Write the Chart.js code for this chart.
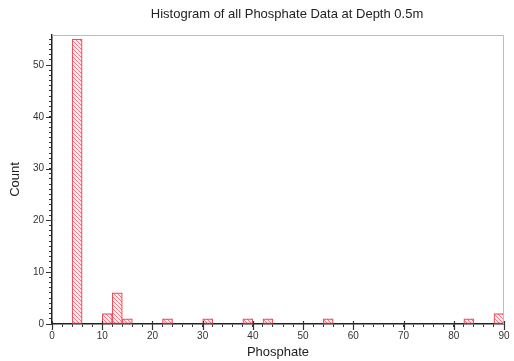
<!DOCTYPE html>
<html>
<head>
<meta charset="utf-8">
<script src="https://cdn.jsdelivr.net/npm/chart.js@4/dist/chart.umd.min.js"></script>
<style>
  html, body { margin: 0; padding: 0; background: #fff; }
  #wrap { width: 514px; height: 361px; }
</style>
</head>
<body>
<div id="wrap"><canvas id="histChart" width="514" height="361"></canvas></div>
<script>
// bins are 2 units wide, only the non-empty ones are listed
const binStarts = [4, 10, 12, 14, 22, 30, 38, 42, 54, 82, 88];
const counts = [55, 2, 6, 1, 1, 1, 1, 1, 1, 1, 2];
const binWidth = 2;
const xTickLabels = [0, 10, 20, 30, 40, 50, 60, 70, 80, 90];
const yTickLabels = [0, 10, 20, 30, 40, 50];
const chartTitle = 'Histogram of all Phosphate Data at Depth 0.5m';
const FONT = "'Liberation Sans', Arial, sans-serif";

// hatch pattern for the bars
function makeHatch() {
    const c = document.createElement('canvas');
    c.width = 4; c.height = 4;
    const g = c.getContext('2d');
    g.fillStyle = 'rgba(255, 235, 238, 1)';
    g.fillRect(0, 0, 4, 4);
    g.strokeStyle = 'rgba(236, 110, 122, 0.9)';
    g.lineWidth = 1;
    g.beginPath();
    g.moveTo(-1, -1); g.lineTo(5, 5);
    g.moveTo(-1, 3); g.lineTo(1, 5);
    g.moveTo(3, -1); g.lineTo(5, 1);
    g.stroke();
    return g.createPattern(c, 'repeat');
}

const points = binStarts.map((s, i) => ({ x: s + binWidth / 2, y: counts[i] }));

// title (sits right of canvas centre), longer major ticks, light gray frame
const frameAndTicks = {
    id: 'frameAndTicks',
    afterDraw(chart) {
        const ctx = chart.ctx;
        const a = chart.chartArea;
        const xs = chart.scales.x, ys = chart.scales.y;
        ctx.save();
        ctx.fillStyle = '#222';
        ctx.font = '13px ' + FONT;
        ctx.textAlign = 'center';
        ctx.textBaseline = 'middle';
        ctx.fillText(chartTitle, (a.left + a.right) / 2 + 9, 14);

        ctx.strokeStyle = '#bdbdbd';
        ctx.lineWidth = 1;
        ctx.beginPath();
        ctx.moveTo(a.left, a.top + 0.5);
        ctx.lineTo(a.right - 0.5, a.top + 0.5);
        ctx.lineTo(a.right - 0.5, a.bottom);
        ctx.stroke();

        ctx.strokeStyle = '#333';
        ctx.lineWidth = 1.2;
        ctx.beginPath();
        xTickLabels.forEach(v => {
            const px = Math.round(xs.getPixelForValue(v)) + 0.5;
            ctx.moveTo(px, a.bottom - 3);
            ctx.lineTo(px, a.bottom + 6);
        });
        yTickLabels.forEach(v => {
            const py = Math.round(ys.getPixelForValue(v)) + 0.5;
            ctx.moveTo(a.left - 6, py);
            ctx.lineTo(a.left, py);
        });
        ctx.stroke();
        ctx.restore();
    }
};

const ctx = document.getElementById('histChart').getContext('2d');
new Chart(ctx, {
    type: 'bar',
    data: {
        datasets: [{
            label: 'Count',
            data: points,
            backgroundColor: makeHatch(),
            borderColor: 'rgba(232, 78, 92, 1)',
            borderWidth: 1.2,
            borderSkipped: false,
            categoryPercentage: 1.0,
            barPercentage: 1.0
        }]
    },
    options: {
        responsive: false,
        animation: false,
        layout: {
            padding: { top: 35, right: 10, bottom: 0, left: 0 }
        },
        scales: {
            x: {
                type: 'linear',
                min: 0,
                max: 90,
                offset: false,
                grid: {
                    offset: false,
                    drawOnChartArea: false,
                    tickLength: 3,
                    color: '#333'
                },
                border: { color: '#222', width: 1.5 },
                ticks: {
                    stepSize: 2,
                    autoSkip: false,
                    maxRotation: 0,
                    padding: 3,
                    color: '#333',
                    font: { size: 10, family: FONT },
                    callback: v => xTickLabels.includes(v) ? v : ''
                },
                title: {
                    display: true,
                    text: 'Phosphate',
                    color: '#222',
                    padding: { top: 0, bottom: 1 },
                    font: { size: 13, family: FONT }
                },
                afterFit: s => { s.height = 37; }
            },
            y: {
                min: 0,
                max: 55.8,
                grid: {
                    drawOnChartArea: false,
                    tickLength: 3,
                    color: '#333'
                },
                border: { color: '#222', width: 1.5 },
                ticks: {
                    stepSize: 1,
                    includeBounds: false,
                    autoSkip: false,
                    padding: 5,
                    color: '#333',
                    font: { size: 10, family: FONT },
                    callback: v => yTickLabels.includes(v) ? v : ''
                },
                title: {
                    display: true,
                    text: 'Count',
                    color: '#222',
                    padding: { top: 8, bottom: 0 },
                    font: { size: 13, family: FONT }
                },
                afterFit: s => { s.width = 52; }
            }
        },
        plugins: {
            title: { display: false },
            legend: { display: false },
            tooltip: { enabled: false }
        }
    },
    plugins: [frameAndTicks]
});
</script>
</body>
</html>
